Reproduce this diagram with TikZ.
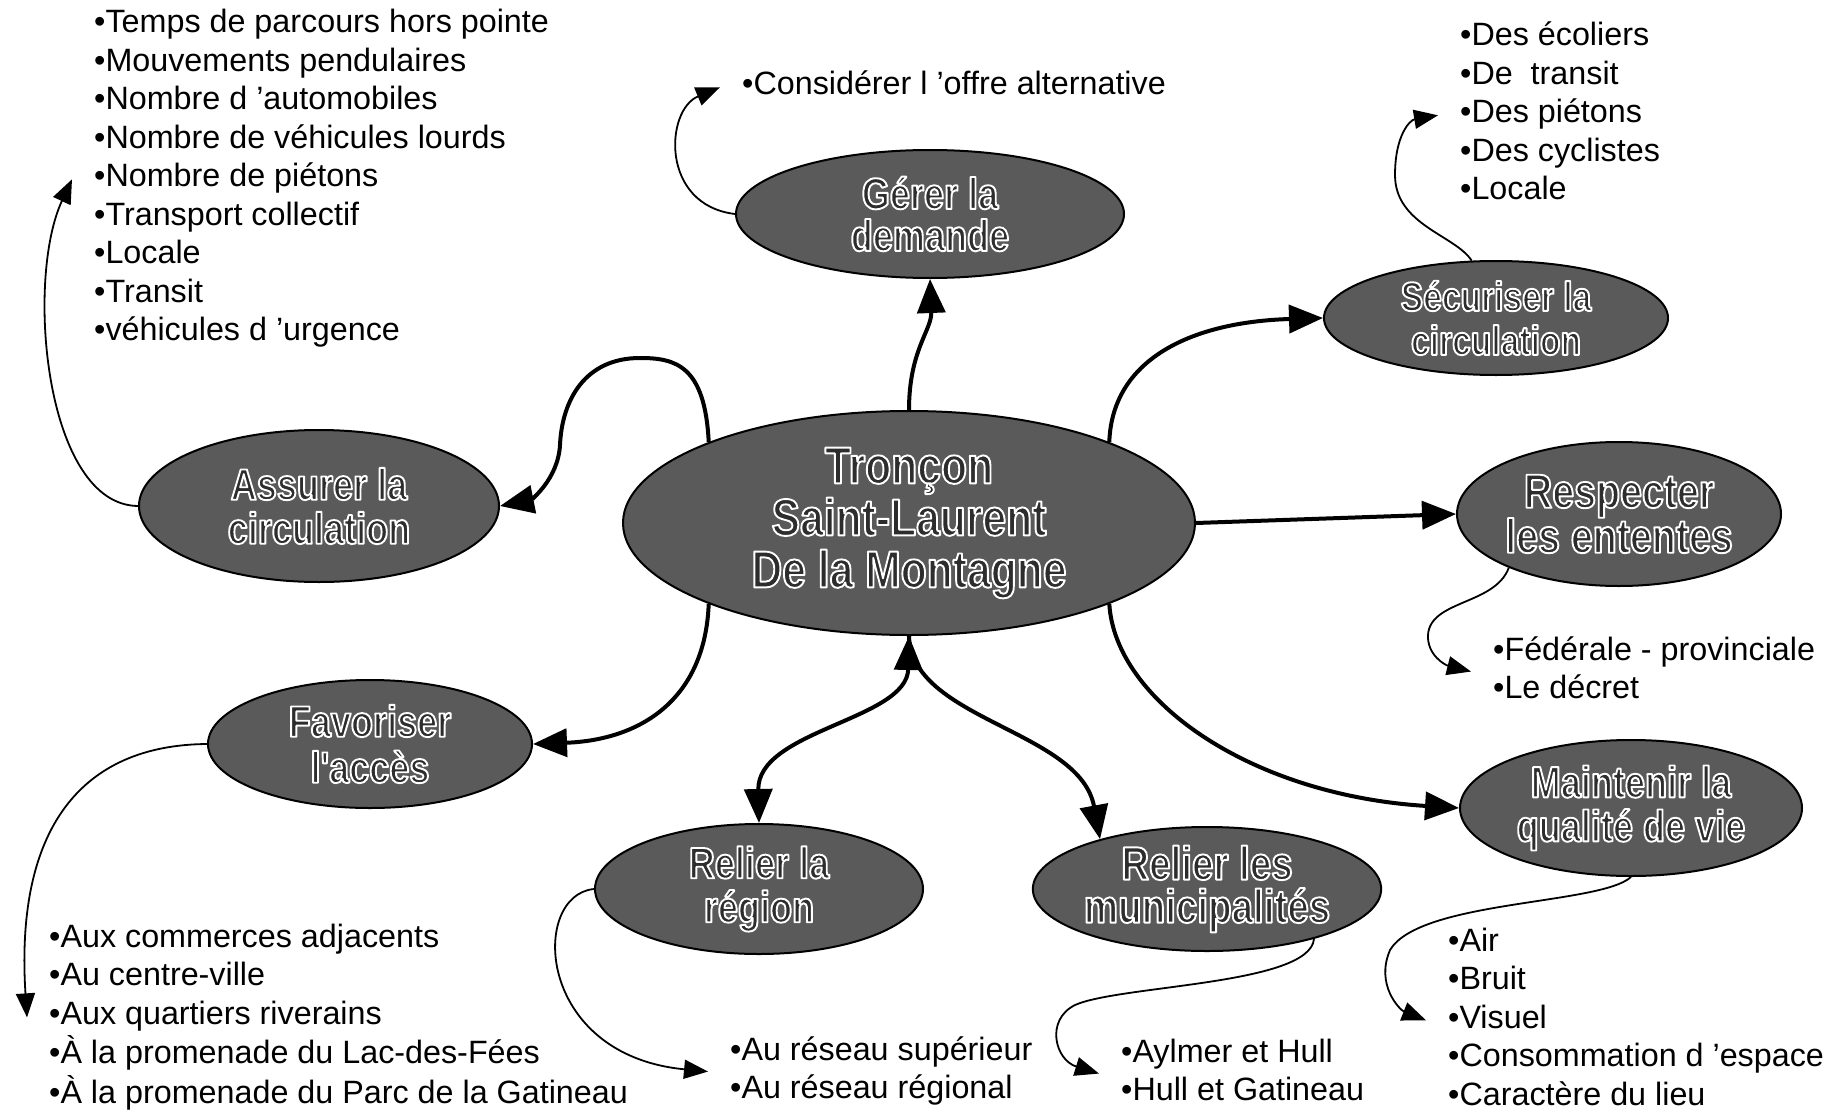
\documentclass[tikz,border=0pt]{standalone}
\usepackage{fontspec}
\setmainfont{Liberation Sans}
\newfontfamily\ellfont[FakeStretch=0.82]{Liberation Sans}
\usetikzlibrary{arrows.meta,shapes.geometric}
\definecolor{ellfill}{RGB}{90,90,90}
\definecolor{elltext}{RGB}{45,45,45}
% dark letters with a white outline (PDF text render mode 2: fill + stroke)
\newcommand{\ct}[1]{\special{pdf:literal direct 1 1 1 RG 1.9 w 1 j 2 Tr}#1\special{pdf:literal direct 0 Tr}}
\newcommand{\lst}[1]{\begin{tabular}[t]{@{}l@{}}#1\end{tabular}}
\tikzset{
  goal/.style={ellipse, draw=black, line width=2pt, fill=ellfill, inner sep=0pt,
    align=center, text=elltext, font=\ellfont\bfseries\fontsize{44}{44}\selectfont},
  listnode/.style={inner xsep=22pt, inner ysep=0pt, anchor=base west,
    font=\fontsize{32.3}{38.5}\selectfont},
  mainarr/.style={line width=4pt, -{Triangle[length=34pt,width=28pt]}},
  subarr/.style={line width=1.8pt, -{Triangle[length=24pt,width=19pt]}},
}
\begin{document}
\begin{tikzpicture}[x=1pt,y=-1pt]
\fill[white] (0,0) rectangle (1846,1113);
\useasboundingbox (0,0) rectangle (1846,1113);

% goal ellipses
\node[goal, minimum width=572pt, minimum height=224pt, font=\ellfont\bfseries\fontsize{52}{52}\selectfont] (c) at (909,523) {\ct{Tronçon}\\\ct{Saint-Laurent}\\\ct{De la Montagne}};
\node[goal, minimum width=388pt, minimum height=128pt, font=\ellfont\bfseries\fontsize{44}{42}\selectfont] (g) at (930,214) {\ct{Gérer la}\\\ct{demande}};
\node[goal, minimum width=344pt, minimum height=114pt, font=\ellfont\bfseries\fontsize{41}{44}\selectfont] (s) at (1496,318) {\ct{Sécuriser la}\\\ct{circulation}};
\node[goal, minimum width=324pt, minimum height=144pt, font=\ellfont\bfseries\fontsize{48}{45}\selectfont] (r) at (1619,514) {\ct{Respecter}\\\ct{les ententes}};
\node[goal, minimum width=342pt, minimum height=136pt] (m) at (1631,808) {\ct{Maintenir la}\\\ct{qualité de vie}};
\node[goal, minimum width=314pt, minimum height=124pt, font=\ellfont\bfseries\fontsize{47}{43}\selectfont] (rm) at (1207,889) {\ct{Relier les}\\\ct{municipalités}};
\node[goal, minimum width=328pt, minimum height=130pt] (rl) at (759,889) {\ct{Relier la}\\\ct{région}};
\node[goal, minimum width=324pt, minimum height=128pt, font=\ellfont\bfseries\fontsize{44}{46}\selectfont] (f) at (370,744) {\ct{Favoriser}\\\ct{l'accès}};
\node[goal, minimum width=360pt, minimum height=152pt] (as) at (319,506) {\ct{Assurer la}\\\ct{circulation}};

% lists
\node[listnode] (L1) at (72,33) {\lst{•Temps de parcours hors pointe\\•Mouvements pendulaires\\•Nombre d ’automobiles\\•Nombre de véhicules lourds\\•Nombre de piétons\\•Transport collectif\\•Locale\\•Transit\\•véhicules d ’urgence}};
\node[listnode] (L2) at (720,95) {\lst{•Considérer l ’offre alternative}};
\node[listnode] (L3) at (1438,46) {\lst{•Des écoliers\\•De~~transit\\•Des piétons\\•Des cyclistes\\•Locale}};
\node[listnode] (L4) at (1471,660) {\lst{•Fédérale - provinciale\\•Le décret}};
\node[listnode] (L5) at (1426,951) {\lst{•Air\\•Bruit\\•Visuel\\•Consommation d ’espace\\•Caractère du lieu}};
\node[listnode] (L6) at (1099,1062) {\lst{•Aylmer et Hull\\•Hull et Gatineau}};
\node[listnode] (L7) at (708,1060) {\lst{•Au réseau supérieur\\•Au réseau régional}};
\node[listnode] (L8) at (27,947) {\lst{•Aux commerces adjacents\\•Au centre-ville\\•Aux quartiers riverains\\•À la promenade du Lac-des-Fées\\•À la promenade du Parc de la Gatineau}};

% main connectors
\draw[mainarr] (c.north) .. controls (909,350) and (932,330) .. (g.south);
\draw[mainarr] (c.22) .. controls (1112,360) and (1190,322) .. (s.west);
\draw[mainarr] (c.east) -- (r.west);
\draw[mainarr] (c.-22) .. controls (1115,700) and (1250,795) .. (m.west);
\draw[mainarr, {Triangle[length=34pt,width=28pt]}-{Triangle[length=34pt,width=28pt]}] (c.south) .. controls (907,720) and (757,730) .. (rl.north);
\draw[mainarr] (c.south) .. controls (911,720) and (1080,730) .. (rm.155);
\draw[mainarr] (c.158) .. controls (705,365) and (675,358) .. (640,358) .. controls (585,358) and (562,400) .. (560,445) .. controls (558,480) and (530,500) .. (as.east);
\draw[mainarr] (c.202) .. controls (705,700) and (640,740) .. (f.east);

% sub connectors
\draw[subarr] (g.west) .. controls (660,205) and (665,110) .. (L2.west);
\draw[subarr] (as.west) .. controls (45,505) and (25,280) .. (L1.west);
\draw[subarr] (s.113) .. controls (1455,235) and (1395,225) .. (1395,175) .. controls (1395,135) and (1410,120) .. (L3.west);
\draw[subarr] (r.206) .. controls (1495,605) and (1430,600) .. (1428,635) .. controls (1427,655) and (1445,665) .. (L4.west);
\draw[subarr] (m.south) .. controls (1600,905) and (1420,900) .. (1390,950) .. controls (1375,985) and (1400,1010) .. (L5.west);
\draw[subarr] (rm.-25) .. controls (1310,985) and (1120,985) .. (1075,1005) .. controls (1045,1020) and (1055,1060) .. (L6.west);
\draw[subarr] (rl.west) .. controls (530,895) and (535,1055) .. (L7.west);
\draw[subarr] (f.west) .. controls (80,745) and (15,830) .. (L8.west);
\end{tikzpicture}
\end{document}
